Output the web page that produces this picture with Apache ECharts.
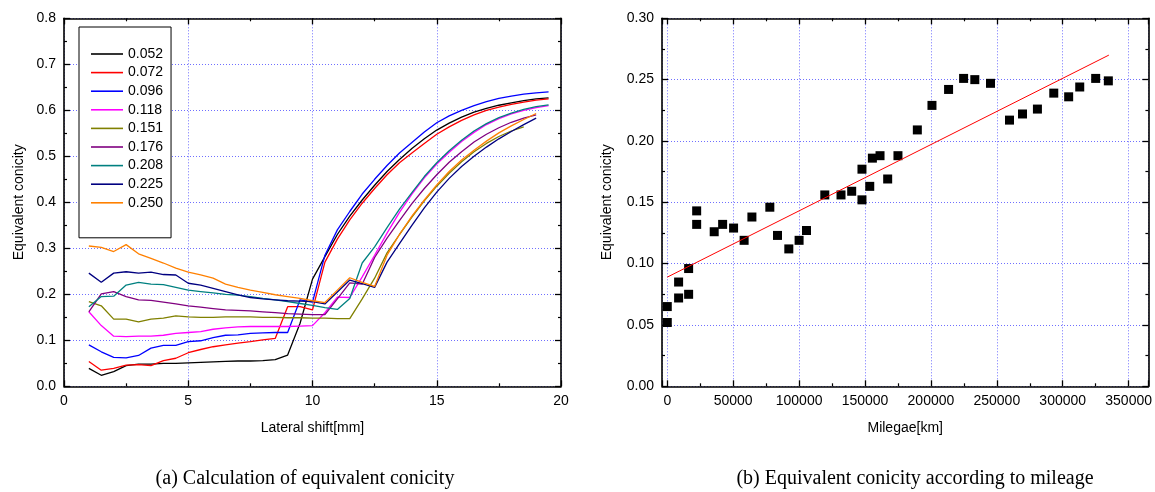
<!DOCTYPE html>
<html>
<head>
<meta charset="utf-8">
<script src="https://cdn.jsdelivr.net/npm/echarts@6/dist/echarts.min.js"></script>
<style>
html,body{margin:0;padding:0;background:#fff;}
#c{width:1155px;height:492px;}
</style>
</head>
<body>
<div id="c"></div>
<script>
// ---------- Left chart: lateral shift vs equivalent conicity ----------
const lateralShift = [1,1.5,2,2.5,3,3.5,4,4.5,5,5.5,6,6.5,7,7.5,8,8.5,9,9.5,10,10.5,11,11.5,12,12.5,13,13.5,14,14.5,15,15.5,16,16.5,17,17.5,18,18.5,19,19.5];
const seriesNames = ['0.052','0.072','0.096','0.118','0.151','0.176','0.208','0.225','0.250'];
const s052 = [0.039,0.024,0.032,0.045,0.048,0.048,0.050,0.050,0.051,0.052,0.053,0.054,0.055,0.055,0.056,0.058,0.068,0.137,0.233,0.282,0.330,0.370,0.405,0.437,0.467,0.493,0.517,0.538,0.557,0.572,0.585,0.596,0.604,0.611,0.616,0.621,0.625,0.627];
const s072 = [0.054,0.035,0.039,0.046,0.047,0.045,0.056,0.061,0.073,0.080,0.086,0.090,0.094,0.097,0.101,0.104,0.173,0.173,0.166,0.270,0.320,0.362,0.398,0.430,0.460,0.486,0.507,0.528,0.548,0.564,0.578,0.590,0.600,0.607,0.613,0.618,0.622,0.625];
const s096 = [0.090,0.075,0.063,0.062,0.067,0.083,0.089,0.089,0.097,0.099,0.106,0.111,0.112,0.115,0.116,0.117,0.117,0.188,0.183,0.285,0.340,0.380,0.418,0.450,0.480,0.507,0.530,0.553,0.573,0.588,0.600,0.610,0.619,0.626,0.631,0.635,0.638,0.640];
const s118 = [0.162,0.132,0.109,0.108,0.109,0.109,0.111,0.115,0.117,0.119,0.124,0.127,0.129,0.130,0.130,0.130,0.130,0.131,0.132,0.160,0.194,0.193,0.238,0.285,0.333,0.378,0.418,0.453,0.483,0.509,0.532,0.552,0.569,0.582,0.592,0.600,0.606,0.610];
const s151 = [0.184,0.175,0.146,0.146,0.140,0.146,0.148,0.153,0.151,0.150,0.150,0.151,0.151,0.151,0.150,0.150,0.149,0.149,0.148,0.148,0.147,0.147,0.190,0.235,0.290,0.330,0.368,0.403,0.435,0.463,0.488,0.510,0.528,0.543,0.555,0.564];
const s176 = [0.162,0.201,0.206,0.195,0.188,0.187,0.183,0.179,0.175,0.172,0.169,0.166,0.165,0.164,0.162,0.160,0.158,0.157,0.156,0.156,0.190,0.225,0.222,0.280,0.322,0.360,0.397,0.430,0.460,0.487,0.510,0.531,0.548,0.562,0.574,0.583,0.590];
const s208 = [0.173,0.195,0.196,0.220,0.226,0.222,0.221,0.215,0.209,0.206,0.203,0.200,0.198,0.195,0.191,0.188,0.184,0.180,0.176,0.171,0.167,0.191,0.268,0.303,0.345,0.385,0.421,0.456,0.486,0.512,0.535,0.555,0.571,0.584,0.594,0.602,0.608,0.612];
const s225 = [0.246,0.226,0.246,0.249,0.246,0.248,0.243,0.242,0.224,0.220,0.213,0.206,0.199,0.193,0.190,0.188,0.186,0.185,0.184,0.179,0.205,0.231,0.223,0.215,0.270,0.310,0.350,0.388,0.422,0.452,0.478,0.500,0.520,0.538,0.554,0.569,0.583];
const s250 = [0.305,0.302,0.293,0.308,0.288,0.278,0.268,0.257,0.248,0.242,0.235,0.222,0.215,0.209,0.204,0.199,0.195,0.191,0.186,0.182,0.209,0.236,0.226,0.217,0.285,0.330,0.370,0.405,0.438,0.467,0.492,0.513,0.533,0.551,0.566,0.580,0.593];
const leftValues = [s052,s072,s096,s118,s151,s176,s208,s225,s250];
const leftColors = ['#000000','#ff0000','#0000ff','#ff00ff','#808000','#800080','#008080','#000080','#ff8000'];
const leftXTicks = [0,5,10,15,20];
const leftYTicks = [0,0.1,0.2,0.3,0.4,0.5,0.6,0.7,0.8];

// ---------- Right chart: mileage vs equivalent conicity ----------
const mileage = [0,0,8600,8600,16200,16200,22300,22300,35600,42000,50300,58300,64200,77800,83600,92200,100000,105600,119500,131800,139900,147700,147700,153600,155600,161400,167200,175000,189700,200800,213400,224800,233300,245200,259600,269500,280800,293200,304500,312900,325000,334600];
const conicity = [0.052,0.065,0.085,0.072,0.075,0.096,0.143,0.132,0.126,0.132,0.129,0.119,0.138,0.146,0.123,0.112,0.119,0.127,0.156,0.156,0.159,0.152,0.177,0.163,0.186,0.188,0.169,0.188,0.209,0.229,0.242,0.251,0.250,0.247,0.217,0.222,0.226,0.239,0.236,0.244,0.251,0.249];
const fitX = [0,335000];
const fitY = [0.089,0.270];

const captionA = '(a) Calculation of equivalent conicity';
const captionB = '(b) Equivalent conicity according to mileage';

const FONT = 'Liberation Sans, Arial, sans-serif';
const gridLine = {show:true, lineStyle:{color:'#6f6fff', type:[1,2], width:1}};
const axLine = {show:true, onZero:false, lineStyle:{color:'#000', width:1.6}};
const tick = {show:true, inside:true, length:6, lineStyle:{color:'#000', width:1.3}};
const minor = {show:true, splitNumber:2, length:3, lineStyle:{color:'#000', width:1.2}};
const lbl = {color:'#000', fontFamily:FONT, fontSize:14};

const chart = echarts.init(document.getElementById('c'), null, {renderer:'canvas'});

const leftSeries = seriesNames.map((n,i)=>({
  name:n, type:'line', xAxisIndex:0, yAxisIndex:0,
  symbol:'none', showSymbol:false, animation:false,
  lineStyle:{color:leftColors[i], width:1.3},
  itemStyle:{color:leftColors[i]},
  data: leftValues[i].map((v,k)=>[lateralShift[k], v])
}));

const option = {
  animation:false,
  backgroundColor:'#fff',
  title:[
    {text:captionA, left:300, top:464, textAlign:'center',
     textStyle:{fontFamily:'Liberation Serif, Times New Roman, serif', fontSize:20, fontWeight:'normal', color:'#000'}},
    {text:captionB, left:910, top:464, textAlign:'center',
     textStyle:{fontFamily:'Liberation Serif, Times New Roman, serif', fontSize:20, fontWeight:'normal', color:'#000'}}
  ],
  legend:{
    data:seriesNames, orient:'vertical', left:79, top:27,
    padding:[20,8,28,12], itemWidth:32, itemHeight:1.6, itemGap:4.6,
    icon:'rect',
    borderColor:'#000', borderWidth:1, backgroundColor:'#fff',
    textStyle:{color:'#000', fontFamily:FONT, fontSize:14, lineHeight:14, height:14, padding:[0,0,0,0]},
    selectedMode:false
  },
  grid:[
    {left:64, top:18.3, width:497, height:368},
    {left:662, top:18.3, width:488, height:368}
  ],
  xAxis:[
    {gridIndex:0, type:'value', min:leftXTicks[0], max:leftXTicks[leftXTicks.length-1], interval:5,
     name:'Lateral shift[mm]', nameLocation:'middle', nameGap:35,
     nameTextStyle:{color:'#000', fontFamily:FONT, fontSize:14},
     axisLine:axLine, axisTick:tick, minorTick:minor, splitLine:gridLine,
     axisLabel:Object.assign({margin:8}, lbl)},
    {gridIndex:0, type:'value', position:'top', min:0, max:20, interval:5,
     axisLine:axLine, axisTick:tick, minorTick:minor, splitLine:{show:false}, axisLabel:{show:false}},
    {gridIndex:1, type:'value', min:-4000, max:365000, splitNumber:7,
     name:'Milegae[km]', nameLocation:'middle', nameGap:35,
     nameTextStyle:{color:'#000', fontFamily:FONT, fontSize:14},
     axisLine:axLine, axisTick:tick, minorTick:minor, splitLine:gridLine,
     axisLabel:Object.assign({margin:8, showMinLabel:false, showMaxLabel:false, formatter:v=>String(Math.round(v))}, lbl)},
    {gridIndex:1, type:'value', position:'top', min:-4000, max:365000, splitNumber:7,
     axisLine:axLine, axisTick:tick, minorTick:minor, splitLine:{show:false}, axisLabel:{show:false}}
  ],
  yAxis:[
    {gridIndex:0, type:'value', min:leftYTicks[0], max:leftYTicks[leftYTicks.length-1], interval:0.1,
     name:'Equivalent conicity', nameLocation:'middle', nameGap:38,
     nameTextStyle:{color:'#000', fontFamily:FONT, fontSize:14},
     axisLine:axLine, axisTick:tick, minorTick:minor, splitLine:gridLine,
     axisLabel:Object.assign({margin:8, formatter:v=>v.toFixed(1)}, lbl)},
    {gridIndex:0, type:'value', position:'right', min:0, max:0.8, interval:0.1,
     axisLine:axLine, axisTick:tick, minorTick:minor, splitLine:{show:false}, axisLabel:{show:false}},
    {gridIndex:1, type:'value', min:0, max:0.3, interval:0.05,
     name:'Equivalent conicity', nameLocation:'middle', nameGap:48,
     nameTextStyle:{color:'#000', fontFamily:FONT, fontSize:14},
     axisLine:axLine, axisTick:tick, minorTick:minor, splitLine:gridLine,
     axisLabel:Object.assign({margin:8, formatter:v=>v.toFixed(2)}, lbl)},
    {gridIndex:1, type:'value', position:'right', min:0, max:0.3, interval:0.05,
     axisLine:axLine, axisTick:tick, minorTick:minor, splitLine:{show:false}, axisLabel:{show:false}}
  ],
  series: leftSeries.concat([
    {name:'fit', type:'line', xAxisIndex:2, yAxisIndex:2, symbol:'none', animation:false,
     lineStyle:{color:'#ff0000', width:1}, data: fitX.map((x,i)=>[x, fitY[i]])},
    {name:'measured', type:'scatter', xAxisIndex:2, yAxisIndex:2, symbol:'rect', symbolSize:9,
     animation:false, itemStyle:{color:'#000', opacity:1}, data: mileage.map((x,i)=>[x, conicity[i]])}
  ])
};
chart.setOption(option);
</script>
</body>
</html>
